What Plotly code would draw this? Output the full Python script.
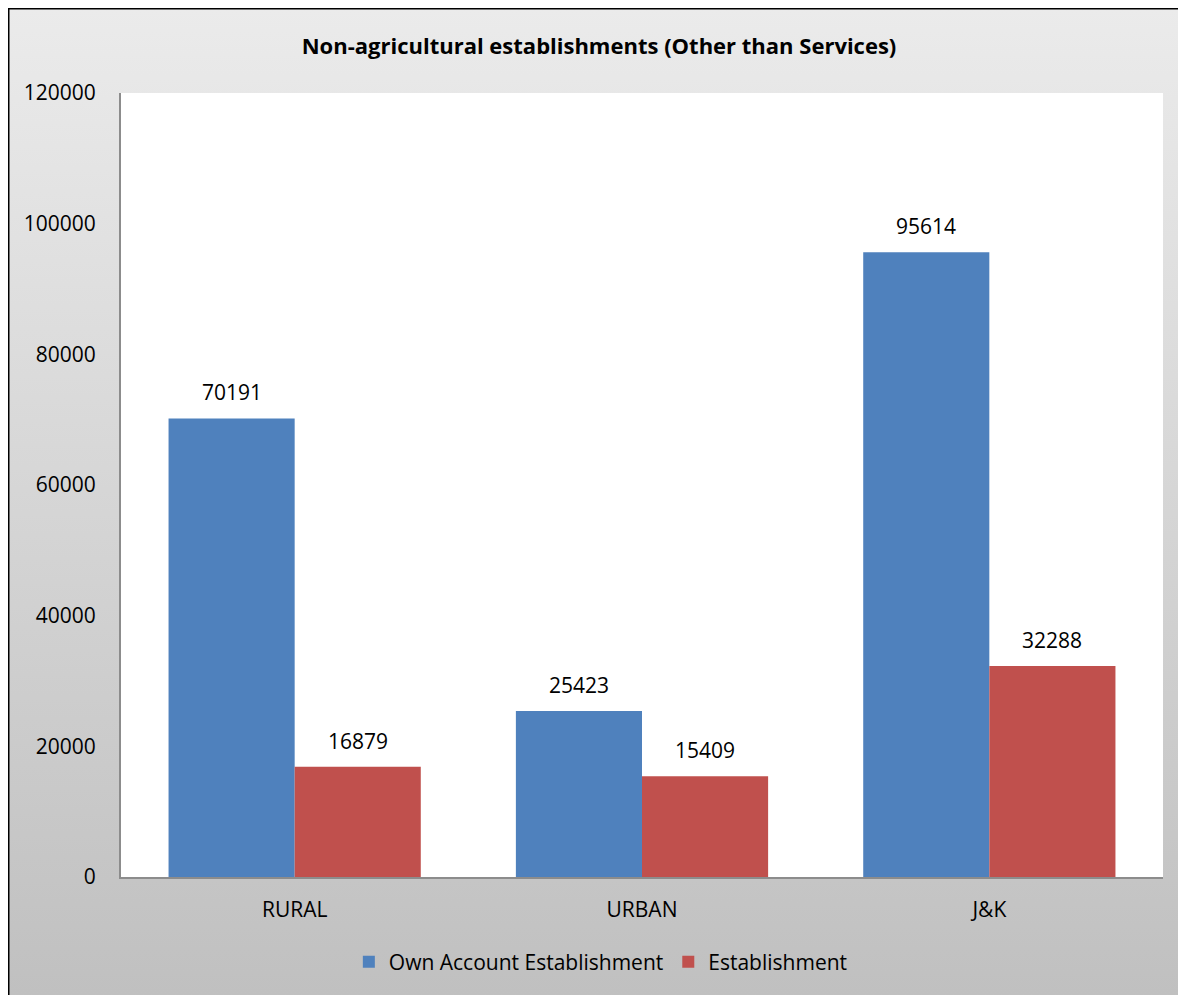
import plotly.graph_objects as go

categories = ["RURAL", "URBAN", "J&K"]
own_account = [70191, 25423, 95614]
establishment = [16879, 15409, 32288]
series_names = ["Own Account Establishment", "Establishment"]
title_text = "Non-agricultural establishments (Other than Services)"
y_ticks = [0, 20000, 40000, 60000, 80000, 100000, 120000]

# page has an 8px body margin; figure sized to reach the window's right/bottom edges
W, H = 1178, 987
L, R, T, B = 113, 23, 85, 118
pw, ph = W - L - R, H - T - B

FONT = "Open Sans"
BLUE = "#4F81BD"
RED = "#C0504D"

fig = go.Figure()
fig.add_trace(go.Bar(x=categories, y=own_account, name=series_names[0],
                     marker=dict(color=BLUE, line=dict(width=0))))
fig.add_trace(go.Bar(x=categories, y=establishment, name=series_names[1],
                     marker=dict(color=RED, line=dict(width=0))))

bar_px = pw / 3 * (1 - 0.2738) / 2
annotations = []
for vals, sign in ((own_account, -1), (establishment, 1)):
    for c, v in zip(categories, vals):
        annotations.append(dict(x=c, y=v, text=str(v), showarrow=False,
                                xref="x", yref="y", yanchor="bottom",
                                xshift=sign * bar_px / 2, yshift=10,
                                font=dict(family=FONT, size=21, color="#000")))

grad_svg = ("data:image/svg+xml;utf8,"
            "<svg xmlns='http://www.w3.org/2000/svg' width='100' height='100' preserveAspectRatio='none'>"
            "<defs><linearGradient id='g' x1='0' y1='0' x2='0' y2='1'>"
            "<stop offset='0' stop-color='%23EBEBEB'/><stop offset='1' stop-color='%23C0C0C0'/>"
            "</linearGradient></defs><rect width='100' height='100' fill='url(%23g)'/></svg>")

x0p = -L / pw
x1p = (W - L) / pw
y1p = (H - B) / ph
y0p = -B / ph

fig.add_layout_image(dict(source=grad_svg, xref="paper", yref="paper",
                          x=x0p, y=y1p, sizex=x1p - x0p, sizey=y1p - y0p,
                          xanchor="left", yanchor="top", sizing="stretch",
                          layer="below"))

shapes = [
    dict(type="rect", xref="paper", yref="paper", x0=0, x1=1, y0=0, y1=1,
         fillcolor="white", line=dict(width=0), layer="below"),
    dict(type="line", xref="paper", yref="paper",
         x0=(0.5 - L) / pw, x1=(0.5 - L) / pw, y0=y0p, y1=y1p,
         line=dict(color="black", width=2)),
    dict(type="line", xref="paper", yref="paper",
         x0=x0p, x1=x1p, y0=(H - B - 0.5) / ph, y1=(H - B - 0.5) / ph,
         line=dict(color="black", width=2)),
]

fig.update_layout(
    width=W, height=H,
    margin=dict(l=L, r=R, t=T, b=B, pad=0),
    paper_bgcolor="#D5D5D5",
    plot_bgcolor="rgba(0,0,0,0)",
    barmode="group",
    bargap=0.2738,
    bargroupgap=0,
    title=dict(text="<b>" + title_text + "</b>", x=591 / W, xanchor="center",
               y=1 - 38 / H, yanchor="middle",
               font=dict(family=FONT, size=22, color="#000")),
    font=dict(family=FONT, size=21, color="#000"),
    xaxis=dict(showline=True, linecolor="#8C8C8C", linewidth=2, ticks="",
               showgrid=False, tickfont=dict(family=FONT, size=21),
               ticklabelstandoff=13),
    yaxis=dict(range=[0, 120000], tickvals=y_ticks, ticktext=[str(t) for t in y_ticks],
               showline=True, linecolor="#8C8C8C", linewidth=2, ticks="",
               showgrid=False, zeroline=False, tickfont=dict(family=FONT, size=21),
               ticklabelstandoff=19),
    legend=dict(orientation="h", x=0.4605, xanchor="center", y=y0p + (987 - 954) / ph,
                yanchor="middle", bgcolor="rgba(0,0,0,0)",
                font=dict(family=FONT, size=21), itemwidth=30,
                traceorder="normal"),
    annotations=annotations,
    shapes=shapes,
    showlegend=True,
)

fig.write_html("out.html")
